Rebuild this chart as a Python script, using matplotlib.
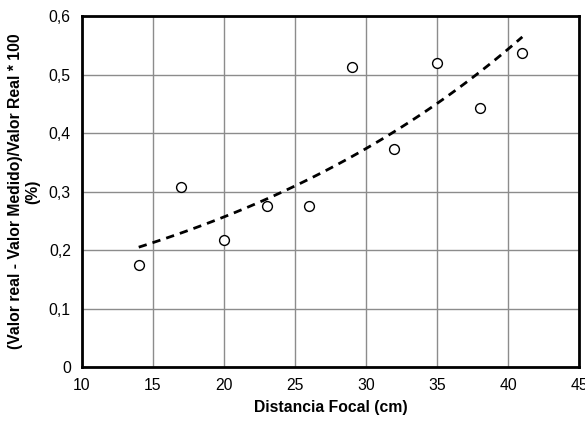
import numpy as np
import matplotlib.pyplot as plt
from matplotlib.ticker import FuncFormatter

plt.rcParams['font.family'] = ['Liberation Sans', 'DejaVu Sans']

# datos
distancia = [14, 17, 20, 23, 26, 29, 32, 35, 38, 41]
error_pct = [0.174, 0.308, 0.217, 0.275, 0.275, 0.512, 0.372, 0.520, 0.443, 0.536]

# linea de tendencia exponencial (como en Excel)
b, ln_a = np.polyfit(distancia, np.log(error_pct), 1)
xt = np.linspace(min(distancia), max(distancia), 100)
yt = np.exp(ln_a) * np.exp(b * xt)

fig = plt.figure(figsize=(5.85, 4.21), dpi=100)
ax = fig.add_axes([0.140, 0.128, 0.850, 0.834])

ax.plot(xt, yt, color='black', linestyle=(0, (3, 2.2)), linewidth=2, zorder=3)
ax.scatter(distancia, error_pct, s=50, facecolor='white', edgecolor='black',
           linewidth=1, zorder=4)

ax.set_xlim(10, 45)
ax.set_ylim(0, 0.6)
ax.set_xticks(range(10, 46, 5))
ax.set_yticks(np.arange(0, 0.61, 0.1))
ax.yaxis.set_major_formatter(FuncFormatter(lambda v, p: '0' if v == 0 else f'{v:.1f}'.replace('.', ',')))
ax.grid(True, color='#8c8c8c', linewidth=1)
ax.set_axisbelow(True)
ax.tick_params(length=0, labelsize=11.3, pad=8)
for s in ax.spines.values():
    s.set_linewidth(2)
    s.set_color('black')

ax.set_xlabel('Distancia Focal (cm)', fontsize=11.3, fontweight='bold', labelpad=5)
ax.set_ylabel('(Valor real - Valor Medido)/Valor Real * 100\n(%)', fontsize=11.3,
              fontweight='bold', labelpad=6)

fig.savefig('out.png', dpi=100)
